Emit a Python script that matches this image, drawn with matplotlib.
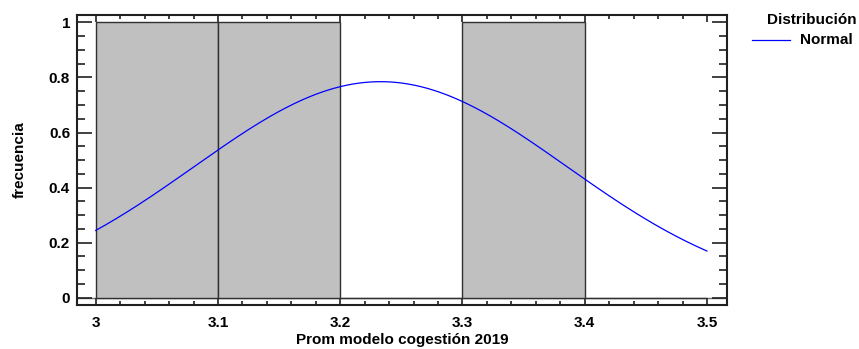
import numpy as np
import matplotlib
matplotlib.use("Agg")
import matplotlib.pyplot as plt
from matplotlib.ticker import MultipleLocator
from matplotlib.lines import Line2D

plt.rcParams['font.family'] = ['Liberation Sans', 'DejaVu Sans']

# Data
bin_edges = [3.0, 3.1, 3.2, 3.3, 3.4, 3.5]
bin_counts = [1, 1, 0, 1, 0]
normal_mean = 3.233
normal_sd = 0.1525
n_obs = 3
bin_width = 0.1
x_tick_labels = ['3', '3.1', '3.2', '3.3', '3.4', '3.5']
y_tick_labels = ['0', '0.2', '0.4', '0.6', '0.8', '1']

FS = 11

fig = plt.figure(figsize=(8.59, 3.49), dpi=100)
ax = fig.add_axes([77/859, 1 - 305/349, (727-77)/859, (305-15)/349])

lefts = bin_edges[:-1]
ax.bar(lefts, bin_counts, width=np.diff(bin_edges), align='edge',
       color='#c0c0c0', edgecolor='#303030', linewidth=1.0, zorder=2)
ax.axhline(0, color='#707070', linewidth=1.0, zorder=1)

xs = np.linspace(bin_edges[0], bin_edges[-1], 300)
ys = n_obs * bin_width * np.exp(-0.5 * ((xs - normal_mean) / normal_sd) ** 2) / (normal_sd * np.sqrt(2 * np.pi))
ax.plot(xs, ys, color='#0000ff', linewidth=0.9, zorder=3)

ax.set_xlim(2.9847, 3.5164)
ax.set_ylim(-0.0266, 1.027)
ax.xaxis.set_minor_locator(MultipleLocator(0.02))
ax.yaxis.set_minor_locator(MultipleLocator(0.05))
ax.set_xticks(bin_edges)
ax.set_xticklabels(x_tick_labels)
ax.set_yticks([0, 0.2, 0.4, 0.6, 0.8, 1.0])
ax.set_yticklabels(y_tick_labels)

ax.tick_params(axis='both', which='both', direction='in', top=True, right=True,
               width=1.2, color='#202020')
ax.tick_params(axis='y', which='major', length=11, labelsize=FS, pad=5)
ax.tick_params(axis='y', which='minor', length=6)
ax.tick_params(axis='x', which='major', length=5, labelsize=FS, pad=8)
ax.tick_params(axis='x', which='minor', length=3)
for lbl in ax.get_xticklabels() + ax.get_yticklabels():
    lbl.set_fontweight('bold')
for s in ax.spines.values():
    s.set_linewidth(1.5)
    s.set_color('#202020')

ax.set_xlabel('Prom modelo cogestión 2019', fontsize=FS, fontweight='bold', labelpad=2)
ax.set_ylabel('frecuencia', fontsize=FS, fontweight='bold', labelpad=16)

fig.text(812/859, 1 - 20/349, 'Distribución', fontsize=FS, fontweight='bold',
         ha='center', va='center')
fig.add_artist(Line2D([752/859, 790/859], [1 - 40/349, 1 - 40/349],
                      color='#0000ff', linewidth=0.9, transform=fig.transFigure))
fig.text(800/859, 1 - 40/349, 'Normal', fontsize=FS, fontweight='bold',
         ha='left', va='center')

fig.savefig('out.png', dpi=100)
